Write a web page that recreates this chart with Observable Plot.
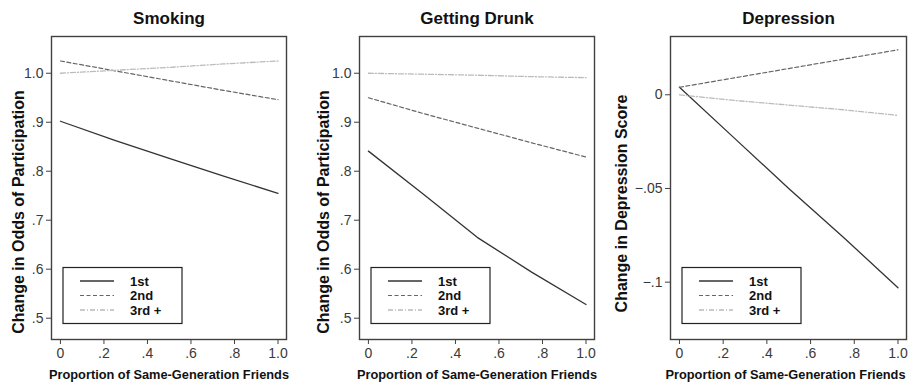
<!DOCTYPE html>
<html>
<head>
<meta charset="utf-8">
<script src="https://cdn.jsdelivr.net/npm/d3@7"></script>
<script src="https://cdn.jsdelivr.net/npm/@observablehq/plot@0.6"></script>
<style>
  body { margin: 0; background: #fff; }
  #wrap { position: relative; width: 913px; height: 383px; overflow: hidden; font-family: "Liberation Sans", Arial, sans-serif; }
  .panel { position: absolute; top: 0; }
  .legend { position: absolute; top: 0; pointer-events: none; }
</style>
</head>
<body>
<div id="wrap"></div>
<script>
// ---- data ----
const generations = ["1st", "2nd", "3rd +"];
const proportion = [0, 0.25, 0.5, 0.75, 1.0];

const smoking1st = [0.902, 0.863, 0.826, 0.790, 0.755];
const smoking2nd = [1.025, 1.005, 0.985, 0.965, 0.946];
const smoking3rd = [1.000, 1.006, 1.012, 1.019, 1.025];

const drunk1st = [0.841, 0.754, 0.665, 0.594, 0.528];
const drunk2nd = [0.950, 0.918, 0.888, 0.858, 0.829];
const drunk3rd = [1.000, 0.998, 0.996, 0.993, 0.991];

const depression1st = [0.004, -0.023, -0.050, -0.076, -0.103];
const depression2nd = [0.004, 0.009, 0.014, 0.019, 0.024];
const depression3rd = [0.000, -0.003, -0.0055, -0.008, -0.011];

const xTickValues = [0, 0.2, 0.4, 0.6, 0.8, 1.0];
const xTickLabels = ["0", ".2", ".4", ".6", ".8", "1.0"];
const oddsTickValues = [0.5, 0.6, 0.7, 0.8, 0.9, 1.0];
const oddsTickLabels = [".5", ".6", ".7", ".8", ".9", "1.0"];
const depTickValues = [0, -0.05, -0.1];
const depTickLabels = ["0", "\u2212.05", "\u2212.1"];

const titles = ["Smoking", "Getting Drunk", "Depression"];
const xLabel = "Proportion of Same-Generation Friends";
const yLabels = ["Change in Odds of Participation", "Change in Odds of Participation", "Change in Depression Score"];

// ---- styles ----
const lineStyles = {
  "1st":   {stroke: "#333333", strokeDasharray: null, strokeWidth: 1.3},
  "2nd":   {stroke: "#666666", strokeDasharray: "4,2.5", strokeWidth: 1.2},
  "3rd +": {stroke: "#bbbbbb", strokeDasharray: "5,2,1,2", strokeWidth: 1.3}
};

function rows(series) {
  const out = [];
  series.forEach((vals, s) => vals.forEach((v, i) => out.push({gen: generations[s], x: proportion[i], y: v})));
  return out;
}

const panels = [
  {left: 0, width: 305, ml: 51, mr: 19, ydom: [0.4565, 1.075], ticks: oddsTickValues, labels: oddsTickLabels,
   data: rows([smoking1st, smoking2nd, smoking3rd]), ylabOff: 33, ylabY: 211.5, xlabDx: 0},
  {left: 305, width: 305, ml: 54, mr: 16, ydom: [0.4565, 1.075], ticks: oddsTickValues, labels: oddsTickLabels,
   data: rows([drunk1st, drunk2nd, drunk3rd]), ylabOff: 36, ylabY: 211.5, xlabDx: 0},
  {left: 610, width: 303, ml: 60, mr: 7, ydom: [-0.1306, 0.0311], ticks: depTickValues, labels: depTickLabels,
   data: rows([depression1st, depression2nd, depression3rd]), ylabOff: 49, ylabY: 203, xlabDx: -3}
];

const H = 383, MT = 36, MB = 44;
const FONT = "'Liberation Sans', Arial, sans-serif";
const wrap = document.getElementById("wrap");

panels.forEach((p, k) => {
  const marks = [];
  generations.forEach(g => {
    const st = lineStyles[g];
    marks.push(Plot.line(p.data.filter(d => d.gen === g), {
      x: "x", y: "y", stroke: st.stroke, strokeWidth: st.strokeWidth,
      strokeDasharray: st.strokeDasharray || undefined
    }));
  });
  marks.push(Plot.frame({stroke: "#404040", strokeWidth: 1.4}));
  marks.push(Plot.axisX(xTickValues, {
    tickFormat: d => xTickLabels[xTickValues.indexOf(d)], tickSize: 5, tickPadding: 4,
    label: null, stroke: "#404040", fill: "#3a3a3a", fontSize: 14
  }));
  marks.push(Plot.axisY(p.ticks, {
    tickFormat: d => p.labels[p.ticks.indexOf(d)], tickSize: 5, tickPadding: 3,
    label: null, stroke: "#404040", fill: "#3a3a3a", fontSize: 14
  }));
  marks.push(Plot.text([titles[k]], {
    text: d => d, frameAnchor: "top", dy: -18, lineAnchor: "middle",
    fontSize: 17, fontWeight: "bold", fill: "#111"
  }));
  marks.push(Plot.text([xLabel], {
    text: d => d, frameAnchor: "bottom", dx: p.xlabDx, dy: 35.5, lineAnchor: "middle",
    fontSize: 13, fontWeight: "bold", fill: "#111", className: "xlab"
  }));
  marks.push(Plot.text([yLabels[k]], {
    text: d => d, frameAnchor: "top-left", dx: -p.ylabOff, dy: p.ylabY - MT, rotate: -90,
    textAnchor: "middle", lineAnchor: "middle", fontSize: 16, fontWeight: "bold", fill: "#111"
  }));

  const chart = Plot.plot({
    width: p.width, height: H,
    marginLeft: p.ml, marginRight: p.mr, marginTop: MT, marginBottom: MB,
    x: {domain: [-0.041, 1.039], axis: null},
    y: {domain: p.ydom, axis: null},
    style: {fontFamily: FONT, fontSize: "14px", background: "transparent", overflow: "visible"},
    marks
  });
  chart.classList.add("panel");
  chart.style.left = p.left + "px";
  d3.select(chart).selectAll(".xlab text").attr("textLength", 240).attr("lengthAdjust", "spacingAndGlyphs");
  wrap.appendChild(chart);

  // legend box overlay
  const fl = p.left + p.ml;
  const svg = d3.select(wrap).append("svg").attr("class", "legend")
    .attr("width", 913).attr("height", H).style("left", "0px");
  svg.append("rect").attr("x", fl + 12).attr("y", 267.5).attr("width", 119).attr("height", 56)
    .attr("fill", "#fff").attr("stroke", "#222").attr("stroke-width", 1.2);
  generations.forEach((g, i) => {
    const st = lineStyles[g];
    const yy = 281 + i * 14.5;
    svg.append("line").attr("x1", fl + 29).attr("x2", fl + 63).attr("y1", yy).attr("y2", yy)
      .attr("stroke", st.stroke).attr("stroke-width", st.strokeWidth)
      .attr("stroke-dasharray", st.strokeDasharray);
    svg.append("text").attr("x", fl + 79).attr("y", yy).attr("dy", "0.35em")
      .attr("font-family", FONT).attr("font-size", 13)
      .attr("font-weight", "bold").attr("fill", "#111").text(g);
  });
});
</script>
</body>
</html>
